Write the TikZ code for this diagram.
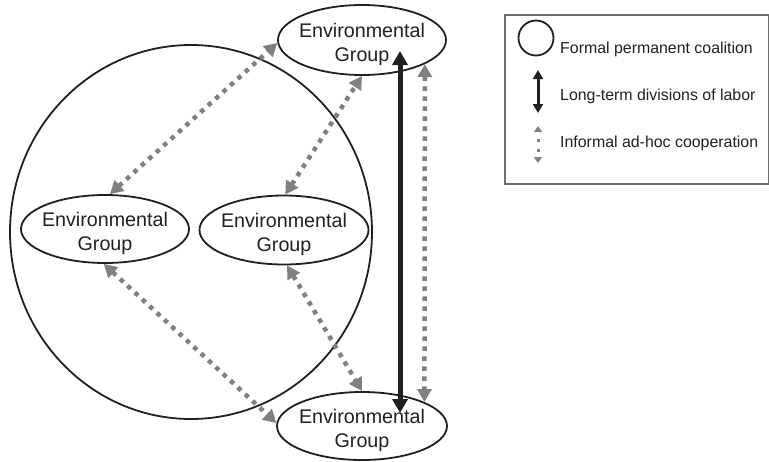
\documentclass[tikz,border=0pt]{standalone}
\usepackage{fontspec}
\setmainfont{Liberation Sans}
\usetikzlibrary{shapes.geometric,arrows.meta}
\definecolor{inkblack}{RGB}{35,31,32}
\definecolor{dotgray}{RGB}{128,128,130}
\definecolor{boxgray}{RGB}{110,110,110}
\begin{document}
\begin{tikzpicture}[x=1pt,y=-1pt,
  envg/.style={ellipse, draw=inkblack, line width=1.8pt, minimum width=168pt, minimum height=68pt, inner sep=0pt},
  envlbl/.style={align=center, font=\fontsize{19.7}{24}\selectfont, text=inkblack, yshift=-4pt, inner sep=0pt},
  gdot/.style={dotgray, line width=4.5pt, dash pattern=on 4.5pt off 5.5pt, {Triangle[length=13pt,width=14pt]}-{Triangle[length=13pt,width=14pt]}},
  gdotsmall/.style={dotgray, line width=3pt, dash pattern=on 3pt off 7pt, dash phase=3pt, {Triangle[length=6pt,width=8pt]}-{Triangle[length=6pt,width=8pt]}},
  blk/.style={inkblack, line width=5pt, {Triangle[length=14pt,width=15pt]}-{Triangle[length=14pt,width=15pt]}},
  blksmall/.style={inkblack, line width=3pt, {Triangle[length=9pt,width=10pt]}-{Triangle[length=9pt,width=10pt]}},
  legtxt/.style={anchor=base west, font=\fontsize{15.9}{19}\selectfont, text=inkblack, inner sep=0pt}]
\useasboundingbox (0,0) rectangle (769,461);

% coalition circle
\node[ellipse, draw=inkblack, line width=1.8pt, minimum width=362pt, minimum height=374pt, inner sep=0pt] (coal) at (191,232) {};

% groups
\node[envg, minimum height=70pt] (top) at (362,40) {};
\node[envg] (left) at (105,229) {};
\node[envg, minimum width=169pt, minimum height=69pt] (mid) at (284,230) {};
\node[envg, minimum width=170pt] (bot) at (362,426) {};
\foreach \g in {top,left,mid,bot}
  \node[envlbl] (\g-lbl) at (\g.center) {Environmental\\Group};

% informal cooperation
\draw[gdot] (left.82) -- (top.182);
\draw[gdot] (mid.88) -- (top.-90);
\draw[gdot] (left.-92) -- (bot.178);
\draw[gdot] (mid.-85) -- (bot.90);
\draw[gdot] (top.-21.5) -- (bot.21.2);

% long-term division of labor
\draw[blk] ([xshift=38pt,yshift=-11pt]top.center) -- ([xshift=38pt,yshift=13pt]bot.center);

% legend
\node[draw=boxgray, line width=1.5pt, minimum width=264pt, minimum height=169pt, inner sep=0pt, anchor=north west] (legend) at (504,14) {};
\node[circle, draw=inkblack, line width=1.8pt, minimum size=35pt, inner sep=0pt] (lcirc) at (536,38) {};
\node[legtxt] (t1) at (560,53) {Formal permanent coalition};
\coordinate (lb1) at (538,70);
\coordinate (lb2) at (538,113);
\draw[blksmall] (lb1) -- (lb2);
\node[legtxt] (t2) at (560,100) {Long-term divisions of labor};
\coordinate (lg1) at (538,126);
\coordinate (lg2) at (538,163);
\draw[gdotsmall] (lg1) -- (lg2);
\node[legtxt] (t3) at (560,147) {Informal ad-hoc cooperation};
\end{tikzpicture}
\end{document}
